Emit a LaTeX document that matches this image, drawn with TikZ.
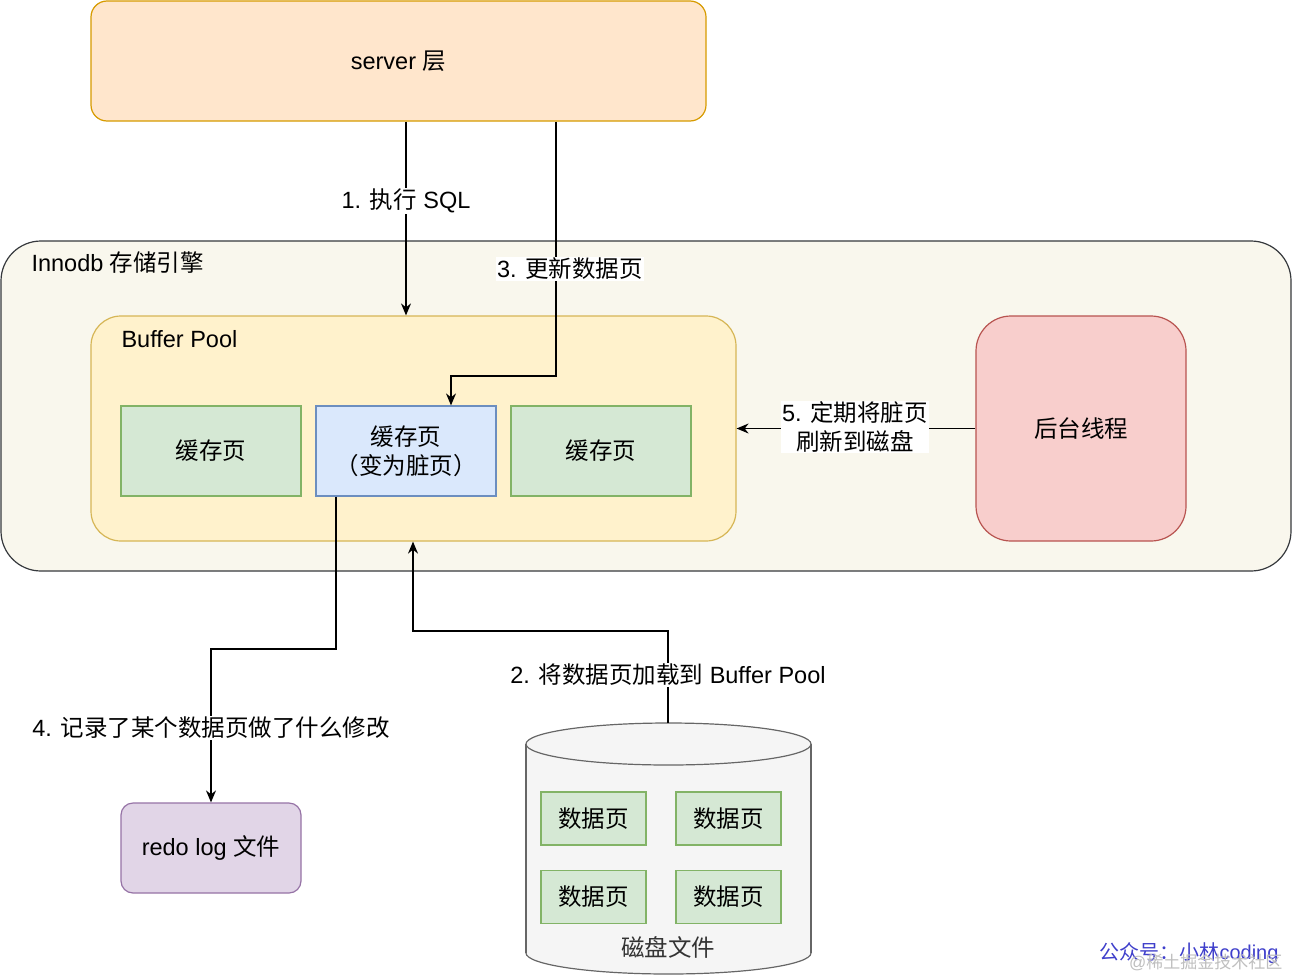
\documentclass[tikz,border=0pt]{standalone}
\usepackage{fontspec}
\setmainfont{Liberation Sans}
\newfontfamily\cjk{Noto Sans CJK SC}
\newcommand\zh[1]{{\cjk #1}}
\usetikzlibrary{arrows.meta}
\definecolor{srvfill}{HTML}{FFE6CC}\definecolor{srvdraw}{HTML}{D79B00}
\definecolor{inofill}{HTML}{F9F7ED}\definecolor{inodraw}{HTML}{36393D}
\definecolor{bpfill}{HTML}{FFF2CC}\definecolor{bpdraw}{HTML}{D6B656}
\definecolor{gfill}{HTML}{D5E8D4}\definecolor{gdraw}{HTML}{82B366}
\definecolor{bfill}{HTML}{DAE8FC}\definecolor{bdraw}{HTML}{6C8EBF}
\definecolor{rfill}{HTML}{F8CECC}\definecolor{rdraw}{HTML}{B85450}
\definecolor{pfill}{HTML}{E1D5E7}\definecolor{pdraw}{HTML}{9673A6}
\definecolor{cfill}{HTML}{F5F5F5}\definecolor{cdraw}{HTML}{666666}
\definecolor{wmblue}{HTML}{3F3FCB}
\tikzset{
  txt/.style={font=\fontsize{23.5}{28}\selectfont, align=center, text=black},
  box/.style={draw, line width=1.2pt, inner sep=0pt, txt},
  pagebox/.style={box, minimum width=180pt, minimum height=90pt},
  dpage/.style={box, fill=gfill, draw=gdraw, minimum width=105pt, minimum height=53pt},
  conn/.style={draw=black, line width=1.3pt, -{Stealth[length=12pt,width=10pt]}},
  lbl/.style={txt, fill=white, inner sep=1pt},
}
\begin{document}
\begin{tikzpicture}[x=1pt,y=-1pt]
\useasboundingbox (0,0) rectangle (1292,977);
\fill[white] (0,0) rectangle (1292,977);
% server
\node[box, fill=srvfill, draw=srvdraw, rounded corners=16pt, minimum width=615pt, minimum height=120pt] (server) at (398.5,61) {server \zh{层}};
% innodb
\node[box, fill=inofill, draw=inodraw, rounded corners=40pt, minimum width=1290pt, minimum height=330pt] (innodb) at (646,406) {};
\node[txt, anchor=west] (innolbl) at (28,263) {Innodb \zh{存储引擎}};
% buffer pool
\node[box, fill=bpfill, draw=bpdraw, rounded corners=30pt, minimum width=645pt, minimum height=225pt] (bp) at (413.5,428.5) {};
\node[txt, anchor=west] (bplbl) at (118,339) {Buffer Pool};
\node[pagebox, fill=gfill, draw=gdraw] (c1) at (211,451) {\zh{缓存页}};
\node[pagebox, fill=bfill, draw=bdraw] (c2) at (406,451) {\zh{缓存页}\\[1pt]\zh{（变为脏页）}};
\node[pagebox, fill=gfill, draw=gdraw] (c3) at (601,451) {\zh{缓存页}};
% background thread
\node[box, fill=rfill, draw=rdraw, rounded corners=35pt, minimum width=210pt, minimum height=225pt] (bg) at (1081,428.5) {\zh{后台线程}};
% redo log
\node[box, fill=pfill, draw=pdraw, rounded corners=12pt, minimum width=180pt, minimum height=90pt] (redo) at (211,848) {redo log \zh{文件}};
% cylinder
\fill[cfill] (668.5,953) ellipse[x radius=142.5, y radius=21];
\fill[cfill] (526,744) rectangle (811,953);
\begin{scope}
\clip (0,953) rectangle (1292,977);
\draw[cdraw, line width=1.2pt] (668.5,953) ellipse[x radius=142.5, y radius=21];
\end{scope}
\draw[cdraw, line width=1.2pt] (526,744) -- (526,953) (811,744) -- (811,953);
\draw[cdraw, line width=1.2pt, fill=cfill] (668.5,744) ellipse[x radius=142.5, y radius=21];
\coordinate (disktop) at (668,723);
\node[dpage] (d1) at (593.5,818.5) {\zh{数据页}};
\node[dpage] (d2) at (728.5,818.5) {\zh{数据页}};
\node[dpage] (d3) at (593.5,897) {\zh{数据页}};
\node[dpage] (d4) at (728.5,897) {\zh{数据页}};
\node[txt, text=black!80] (disklbl) at (668,947) {\zh{磁盘文件}};
% connectors
\draw[conn] (server.south -| 406,0) -- (bp.north -| 406,0)
  node[lbl, pos=0.41] (l1) {1. \zh{执行} SQL};
\draw[conn] (server.south -| 556,0) -- (556,376) -- (451,376) -- (c2.north -| 451,0);
\node[lbl] (l3) at (570,269) {3. \zh{更新数据页}};
\draw[conn] (bg.west) -- (bp.east |- bg.west);
\node[lbl, align=center] (l5) at (855,427) {5. \zh{定期将脏页}\\[1pt]\zh{刷新到磁盘}};
\draw[conn] (disktop) -- (668,631) -- (413,631) -- (bp.south -| 413,0);
\node[lbl] (l2) at (668,675) {2. \zh{将数据页加载到} Buffer Pool};
\draw[conn] (c2.south -| 336,0) -- (336,649) -- (211,649) -- (redo.north);
\node[lbl] (l4) at (211,728) {4. \zh{记录了某个数据页做了什么修改}};
% watermark
\node[font=\fontsize{20}{24}\selectfont, text=wmblue, anchor=east] (wm) at (1282,953) {\zh{公众号：小林}coding};
\node[font=\fontsize{17}{20}\selectfont, text=black!25, anchor=east] (wm2) at (1286,962) {@\zh{稀土掘金技术社区}};
\end{tikzpicture}
\end{document}
